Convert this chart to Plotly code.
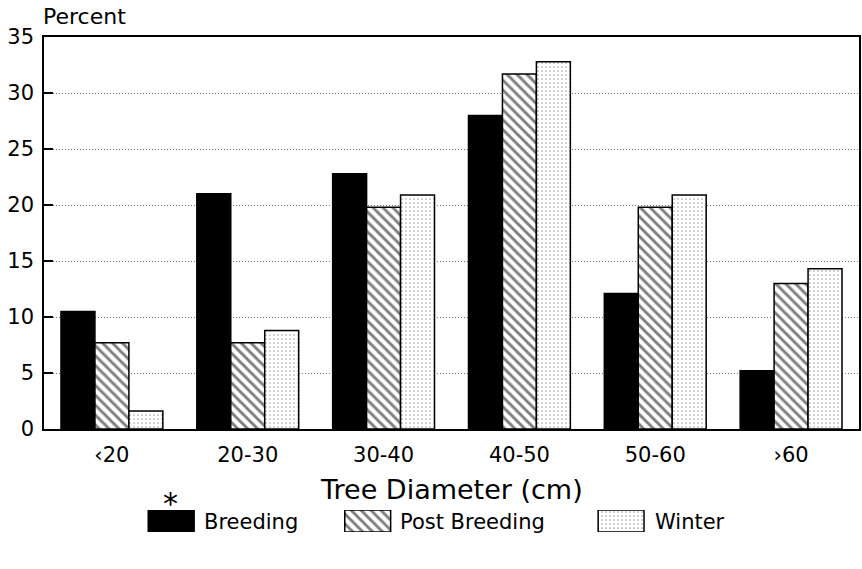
import plotly.graph_objects as go

categories = ["\u203920", "20-30", "30-40", "40-50", "50-60", "\u203a60"]
breeding = [10.5, 21.0, 22.8, 28.0, 12.1, 5.2]
post_breeding = [7.7, 7.7, 19.8, 31.7, 19.8, 13.0]
winter = [1.6, 8.8, 20.9, 32.8, 20.9, 14.3]
series_names = ["Breeding", "Post Breeding", "Winter"]
y_ticks = [0, 5, 10, 15, 20, 25, 30, 35]

FONT = "DejaVu Sans, Liberation Sans, Arial, sans-serif"
W, H = 862, 569
ML, MR, MT, MB = 44, 1, 37, 20
plot_w = W - ML - MR
plot_h = H - MT - MB
def py(p):
    return (H - MB - p) / plot_h
def px(p):
    return (p - ML) / plot_w

styles = [
    dict(color="black", pattern=dict(shape="")),
    dict(color="white", pattern=dict(shape="\\", fgcolor="black", bgcolor="white", size=7, solidity=0.42)),
    dict(color="white", pattern=dict(shape=".", fgcolor="#555", bgcolor="white", size=4, solidity=0.15)),
]

fig = go.Figure()
for name, vals, st in zip(series_names, [breeding, post_breeding, winter], styles):
    fig.add_trace(go.Bar(
        x=categories, y=vals, name=name, showlegend=False,
        marker=dict(color=st["color"], pattern=st["pattern"], line=dict(color="black", width=1.5)),
        xaxis="x", yaxis="y",
    ))

# legend swatches on a helper axis (pixel-based x)
legend_x = [171.5, 368.5, 622.5]
legend_text_x = [202, 399, 654]
for name, lx, st in zip(series_names, legend_x, styles):
    fig.add_trace(go.Bar(
        x=[lx], y=[1], base=0, width=46, offset=-23, showlegend=False, hoverinfo="skip",
        marker=dict(color=st["color"], pattern=st["pattern"], line=dict(color="black", width=1.5)),
        xaxis="x2", yaxis="y2",
    ))

annotations = []
for name, tx in zip(series_names, legend_text_x):
    annotations.append(dict(x=tx, y=0.45, xref="x2", yref="y2", text=name, showarrow=False,
                            xanchor="left", yanchor="middle", font=dict(size=21, family=FONT, color="black")))
annotations.append(dict(x=px(171), y=py(503), xref="paper", yref="paper", text="*", showarrow=False,
                        xanchor="center", yanchor="middle", font=dict(size=30, family=FONT, color="black")))
annotations.append(dict(x=px(41), y=py(16), xref="paper", yref="paper", text="Percent",
                        showarrow=False, xanchor="left", yanchor="middle",
                        font=dict(size=22, family=FONT, color="black")))
annotations.append(dict(x=0.5, y=py(489), xref="paper", yref="paper", text="Tree Diameter (cm)",
                        showarrow=False, xanchor="center", yanchor="middle",
                        font=dict(size=27, family=FONT, color="black")))

fig.update_layout(
    width=W, height=H,
    margin=dict(l=ML, r=MR, t=MT, b=MB),
    paper_bgcolor="white", plot_bgcolor="white",
    barmode="group", bargap=0.25, bargroupgap=0,
    font=dict(family=FONT, color="black"),
    annotations=annotations,
    xaxis=dict(domain=[0, 1], anchor="y", type="category", showline=True, linecolor="black", linewidth=1.5,
               mirror=True, ticks="", tickfont=dict(size=21, family=FONT, color="black"),
               ticklabelstandoff=6, showgrid=False),
    yaxis=dict(domain=[py(429), 1], anchor="x", range=[0, 35], tickvals=y_ticks, showline=True,
               linecolor="black", linewidth=1.5, mirror=True, ticks="inside", ticklen=9, tickwidth=1.5,
               tickcolor="black", tickfont=dict(size=21, family=FONT, color="black"),
               showgrid=True, gridcolor="#777", griddash="1px,2px", gridwidth=1, zeroline=False,
               ticklabelstandoff=4),
    xaxis2=dict(domain=[0, 1], anchor="y2", range=[ML, W - MR], visible=False),
    yaxis2=dict(domain=[py(532), py(510)], anchor="x2", range=[0, 1], visible=False),
)

fig.write_html("out.html")
